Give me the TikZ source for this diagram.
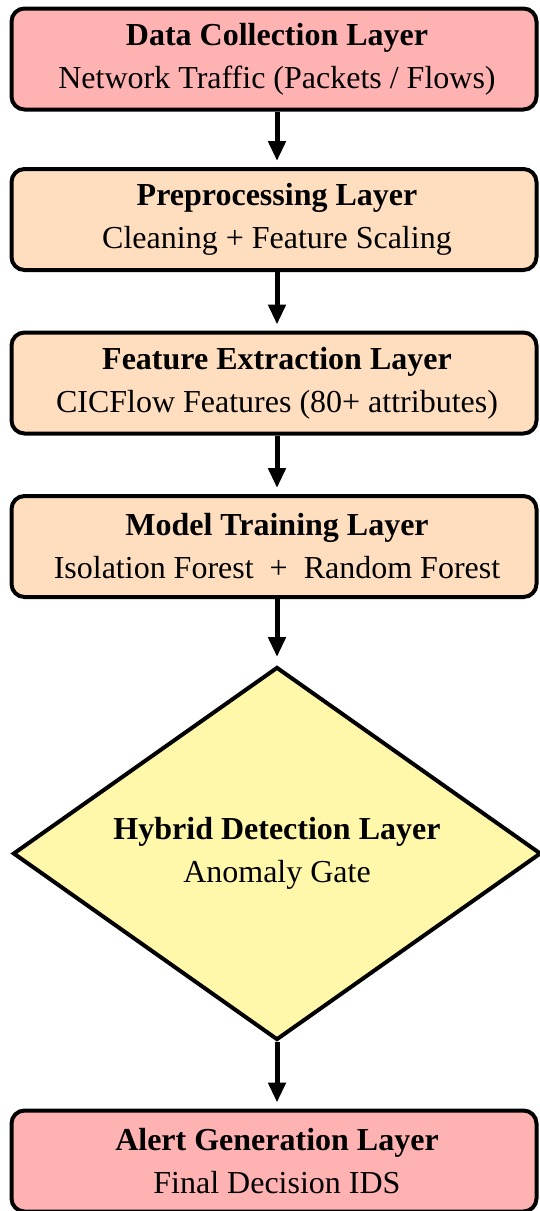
\documentclass[tikz,border=0pt]{standalone}
\usepackage{fontspec}
\setmainfont{LiberationSerif-Regular.ttf}[BoldFont=LiberationSerif-Bold.ttf]
\usetikzlibrary{shapes.geometric,arrows.meta}
\definecolor{boxpink}{HTML}{FFB2B2}
\definecolor{boxpeach}{HTML}{FFDEC0}
\definecolor{boxyellow}{HTML}{FFF8AA}
\tikzset{
  layerbox/.style={draw=black, line width=4pt, rounded corners=13pt, rectangle,
    minimum width=525pt, minimum height=101pt, inner sep=0pt, align=center,
    font=\fontsize{32}{43}\selectfont},
  gatebox/.style={draw=black, line width=4pt, diamond, aspect=1.415, fill=boxyellow,
    minimum width=528pt, minimum height=373pt, inner sep=0pt, align=center,
    font=\fontsize{32}{43}\selectfont},
  flow/.style={line width=5pt, -{Triangle[width=17pt,length=20pt]}, shorten >=6pt}
}
\newcommand{\sh}{\hspace*{6pt}}
\begin{document}
\begin{tikzpicture}[x=1pt,y=-1pt]
\useasboundingbox (0,0) rectangle (539,1211);
\node[layerbox, fill=boxpink]  (dc) at (274,59)    {\sh\textbf{Data Collection Layer}\\\sh Network Traffic (Packets / Flows)};
\node[layerbox, fill=boxpeach] (pp) at (274,219.5) {\sh\textbf{Preprocessing Layer}\\\sh Cleaning + Feature Scaling};
\node[layerbox, fill=boxpeach] (fe) at (274,383)   {\sh\textbf{Feature Extraction Layer}\\\sh CICFlow Features (80+ attributes)};
\node[layerbox, fill=boxpeach] (mt) at (274,546.5) {\sh\textbf{Model Training Layer}\\\sh Isolation Forest\ \ + \ Random Forest};
\node[gatebox] (hd) at (277,853.5) {\textbf{Hybrid Detection Layer}\\Anomaly Gate};
\node[layerbox, fill=boxpink]  (ag) at (274,1161)  {\sh\textbf{Alert Generation Layer}\\\sh Final Decision IDS};
\draw[flow] ([xshift=3pt]dc.south) -- ([xshift=3pt]pp.north);
\draw[flow] ([xshift=3pt]pp.south) -- ([xshift=3pt]fe.north);
\draw[flow] ([xshift=3pt]fe.south) -- ([xshift=3pt]mt.north);
\draw[flow, shorten >=8pt] ([xshift=3pt]mt.south) -- (hd.north);
\draw[flow] (hd.south) -- ([xshift=3pt]ag.north);
\end{tikzpicture}
\end{document}
